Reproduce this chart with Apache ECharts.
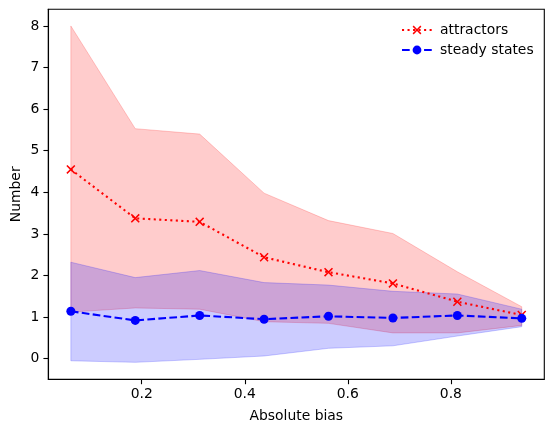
<!DOCTYPE html>
<html>
<head>
<meta charset="utf-8">
<script src="https://cdn.jsdelivr.net/npm/echarts@6/dist/echarts.min.js"></script>
<style>
html,body{margin:0;padding:0;background:#fff;}
#c{width:554px;height:432px;}
</style>
</head>
<body>
<div id="c"></div>
<script>
const biasBins = [0.0625, 0.1875, 0.3125, 0.4375, 0.5625, 0.6875, 0.8125, 0.9375];
const attractorsMean  = [4.55, 3.375, 3.29, 2.44, 2.08, 1.81, 1.37, 1.05];
const attractorsUpper = [8.00, 5.53, 5.40, 3.98, 3.32, 3.01, 2.09, 1.25];
const attractorsLower = [1.12, 1.22, 1.19, 0.89, 0.85, 0.62, 0.62, 0.80];
const steadyMean  = [1.14, 0.92, 1.04, 0.95, 1.02, 0.98, 1.04, 0.97];
const steadyUpper = [2.32, 1.95, 2.12, 1.83, 1.77, 1.62, 1.555, 1.19];
const steadyLower = [-0.05, -0.087, -0.015, 0.065, 0.25, 0.31, 0.545, 0.77];
const xTicks = [0.2, 0.4, 0.6, 0.8];
const yTicks = [0, 1, 2, 3, 4, 5, 6, 7, 8];

const pairs = (ys) => biasBins.map((x, i) => [x, ys[i]]);

const FONT = 'DejaVu Sans';
const RED_FILL = 'rgba(255,0,0,0.2)';
const BLUE_FILL = 'rgba(0,0,255,0.2)';
const X_MARK = 'path://M0,1.2L1.2,0L5,3.8L8.8,0L10,1.2L6.2,5L10,8.8L8.8,10L5,6.2L1.2,10L0,8.8L3.8,5Z';

function bandSeries(name, lo, hi, fill, z) {
  return {
    name: name, type: 'custom', silent: true, z: z,
    coordinateSystem: 'cartesian2d',
    data: pairs(hi).concat(pairs(lo)),
    encode: { x: 0, y: 1 },
    renderItem: function (params, api) {
      if (params.dataIndex !== 0) return null;
      const pts = [];
      for (let i = 0; i < biasBins.length; i++) pts.push(api.coord([biasBins[i], hi[i]]));
      for (let i = biasBins.length - 1; i >= 0; i--) pts.push(api.coord([biasBins[i], lo[i]]));
      return {
        type: 'polygon',
        shape: { points: pts },
        style: { fill: fill, stroke: fill, lineWidth: 1 }
      };
    }
  };
}

const chart = echarts.init(document.getElementById('c'), null, { renderer: 'canvas' });
chart.setOption({
  animation: false,
  backgroundColor: '#fff',
  textStyle: { fontFamily: FONT },
  grid: { left: 48.3, right: 9.7, top: 9.3, bottom: 52.7, show: true, containLabel: false,
          outerBoundsMode: 'none',
          borderColor: '#000', borderWidth: 1.1, backgroundColor: 'transparent' },
  legend: {
    data: ['attractors', 'steady states'],
    orient: 'vertical', left: 396, top: 18, itemWidth: 30, itemHeight: 11, itemGap: 6,
    textStyle: { fontFamily: FONT, fontSize: 13.9, color: '#000', padding: [0, 0, 0, 3] }
  },
  xAxis: {
    type: 'value', min: 0.01875, max: 0.98125,
    name: 'Absolute bias', nameLocation: 'middle', nameGap: 30, nameMoveOverlap: false,
    nameTextStyle: { fontFamily: FONT, fontSize: 13.9, color: '#000' },
    axisLine: { show: true, onZero: false, lineStyle: { color: '#000', width: 1.1 } },
    axisTick: { show: true, length: 4.9, lineStyle: { color: '#000', width: 1.1 }, customValues: xTicks },
    axisLabel: { fontFamily: FONT, fontSize: 13.9, color: '#000', margin: 8, customValues: xTicks,
                 formatter: v => v.toFixed(1) },
    splitLine: { show: false }
  },
  yAxis: {
    type: 'value', min: -0.495, max: 8.40,
    name: 'Number', nameLocation: 'middle', nameGap: 25, nameRotate: 90, nameMoveOverlap: false,
    nameTextStyle: { fontFamily: FONT, fontSize: 13.9, color: '#000' },
    axisLine: { show: true, onZero: false, lineStyle: { color: '#000', width: 1.1 } },
    axisTick: { show: true, length: 4.9, lineStyle: { color: '#000', width: 1.1 }, customValues: yTicks },
    axisLabel: { fontFamily: FONT, fontSize: 13.9, color: '#000', margin: 9, customValues: yTicks,
                 formatter: v => String(v) },
    splitLine: { show: false }
  },
  series: [
    bandSeries('attrBand', attractorsLower, attractorsUpper, RED_FILL, 1),
    bandSeries('steadyBand', steadyLower, steadyUpper, BLUE_FILL, 2),
    { name: 'attractors', type: 'line', data: pairs(attractorsMean), z: 5,
      symbol: X_MARK, symbolSize: 9,
      itemStyle: { color: '#ff0000' },
      lineStyle: { color: '#ff0000', width: 2.08, type: [2.08, 3.44] } },
    { name: 'steady states', type: 'line', data: pairs(steadyMean), z: 6,
      symbol: 'circle', symbolSize: 9,
      itemStyle: { color: '#0000ff' },
      lineStyle: { color: '#0000ff', width: 2.08, type: [7.7, 3.33] } }
  ]
});
</script>
</body>
</html>
